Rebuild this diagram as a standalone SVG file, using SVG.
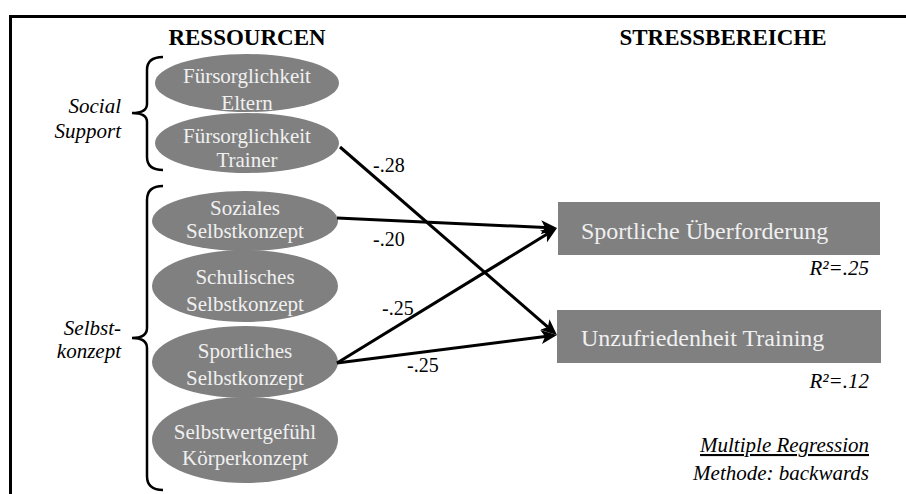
<svg xmlns="http://www.w3.org/2000/svg" width="906" height="494" viewBox="0 0 906 494">
<style>
text{font-family:'Liberation Serif','Times New Roman',Times,'DejaVu Serif',serif}
.node{fill:#808080}
.nt{font-size:21px;fill:#f0f0f0;text-anchor:middle}
.bt{font-size:24px;fill:#f0f0f0}
.hd{font-size:23px;font-weight:bold;fill:#000;text-anchor:middle}
.it{font-size:21px;font-style:italic;fill:#000}
.lbl{font-size:20px;fill:#000}
.edge{stroke:#000;stroke-width:3;fill:none;marker-end:url(#ah)}
.brace{stroke:#000;stroke-width:2.5;fill:none}
</style>
<defs>
<marker id="ah" markerUnits="userSpaceOnUse" markerWidth="16" markerHeight="14" refX="4" refY="7" orient="auto">
<path d="M0,0 L16,7 L0,14 L4,7 z" fill="#000"/>
</marker>
</defs>
<rect x="0" y="0" width="906" height="494" fill="#fff"/>
<path d="M10.5,494 L10.5,16.5 L906,16.5" stroke="#000" stroke-width="3" fill="none"/>
<text class="hd" x="247" y="45">RESSOURCEN</text>
<text class="hd" x="723" y="45">STRESSBEREICHE</text>
<path class="brace" d="M163,57 Q147,57 147,70 L147,104 Q147,113 132,113 Q147,113 147,122 L147,157 Q147,170 163,170"/>
<path class="brace" d="M163,186 Q147,186 147,200 L147,328 Q147,338 132,338 Q147,338 147,348 L147,476 Q147,490 163,490"/>
<text class="it" x="121" y="113" text-anchor="end">Social</text>
<text class="it" x="121" y="138" text-anchor="end">Support</text>
<text class="it" x="121" y="335" text-anchor="end">Selbst-</text>
<text class="it" x="121" y="358" text-anchor="end">konzept</text>
<g id="n1"><ellipse class="node" cx="247" cy="83" rx="92" ry="29"/><text class="nt" x="247" y="83">Fürsorglichkeit</text><text class="nt" x="247" y="110">Eltern</text></g>
<g id="n2"><ellipse class="node" cx="247" cy="143" rx="92" ry="30"/><text class="nt" x="247" y="143">Fürsorglichkeit</text><text class="nt" x="247" y="167">Trainer</text></g>
<g id="n3"><ellipse class="node" cx="245" cy="221" rx="93" ry="30"/><text class="nt" x="245" y="215">Soziales</text><text class="nt" x="245" y="238">Selbstkonzept</text></g>
<g id="n4"><ellipse class="node" cx="245" cy="286" rx="93" ry="36"/><text class="nt" x="245" y="284">Schulisches</text><text class="nt" x="245" y="311">Selbstkonzept</text></g>
<g id="n5"><ellipse class="node" cx="245" cy="362" rx="93" ry="36"/><text class="nt" x="245" y="358">Sportliches</text><text class="nt" x="245" y="385">Selbstkonzept</text></g>
<g id="n6"><ellipse class="node" cx="245" cy="440" rx="93" ry="43"/><text class="nt" x="245" y="439">Selbstwertgefühl</text><text class="nt" x="245" y="465">Körperkonzept</text></g>
<g id="s1"><rect class="node" x="558" y="202" width="322" height="53"/><text class="bt" x="581" y="239">Sportliche Überforderung</text></g>
<g id="s2"><rect class="node" x="557" y="310" width="324" height="53"/><text class="bt" x="581" y="346">Unzufriedenheit Training</text></g>
<g id="edges">
<line class="edge" x1="340" y1="147" x2="547.9" y2="327.1"/>
<line class="edge" x1="337" y1="218" x2="545" y2="227.5"/>
<line class="edge" x1="337" y1="363" x2="546.8" y2="234.3"/>
<line class="edge" x1="337" y1="363" x2="545.1" y2="336.5"/>
</g>
<text class="lbl" x="373" y="172">-.28</text>
<text class="lbl" x="373" y="246">-.20</text>
<text class="lbl" x="382" y="315">-.25</text>
<text class="lbl" x="407" y="372">-.25</text>
<text class="it" x="869" y="275" text-anchor="end">R²=.25</text>
<text class="it" x="869" y="388" text-anchor="end">R²=.12</text>
<text class="it" x="869" y="452" text-anchor="end" text-decoration="underline">Multiple Regression</text>
<text class="it" x="869" y="480" text-anchor="end">Methode: backwards</text>
</svg>
